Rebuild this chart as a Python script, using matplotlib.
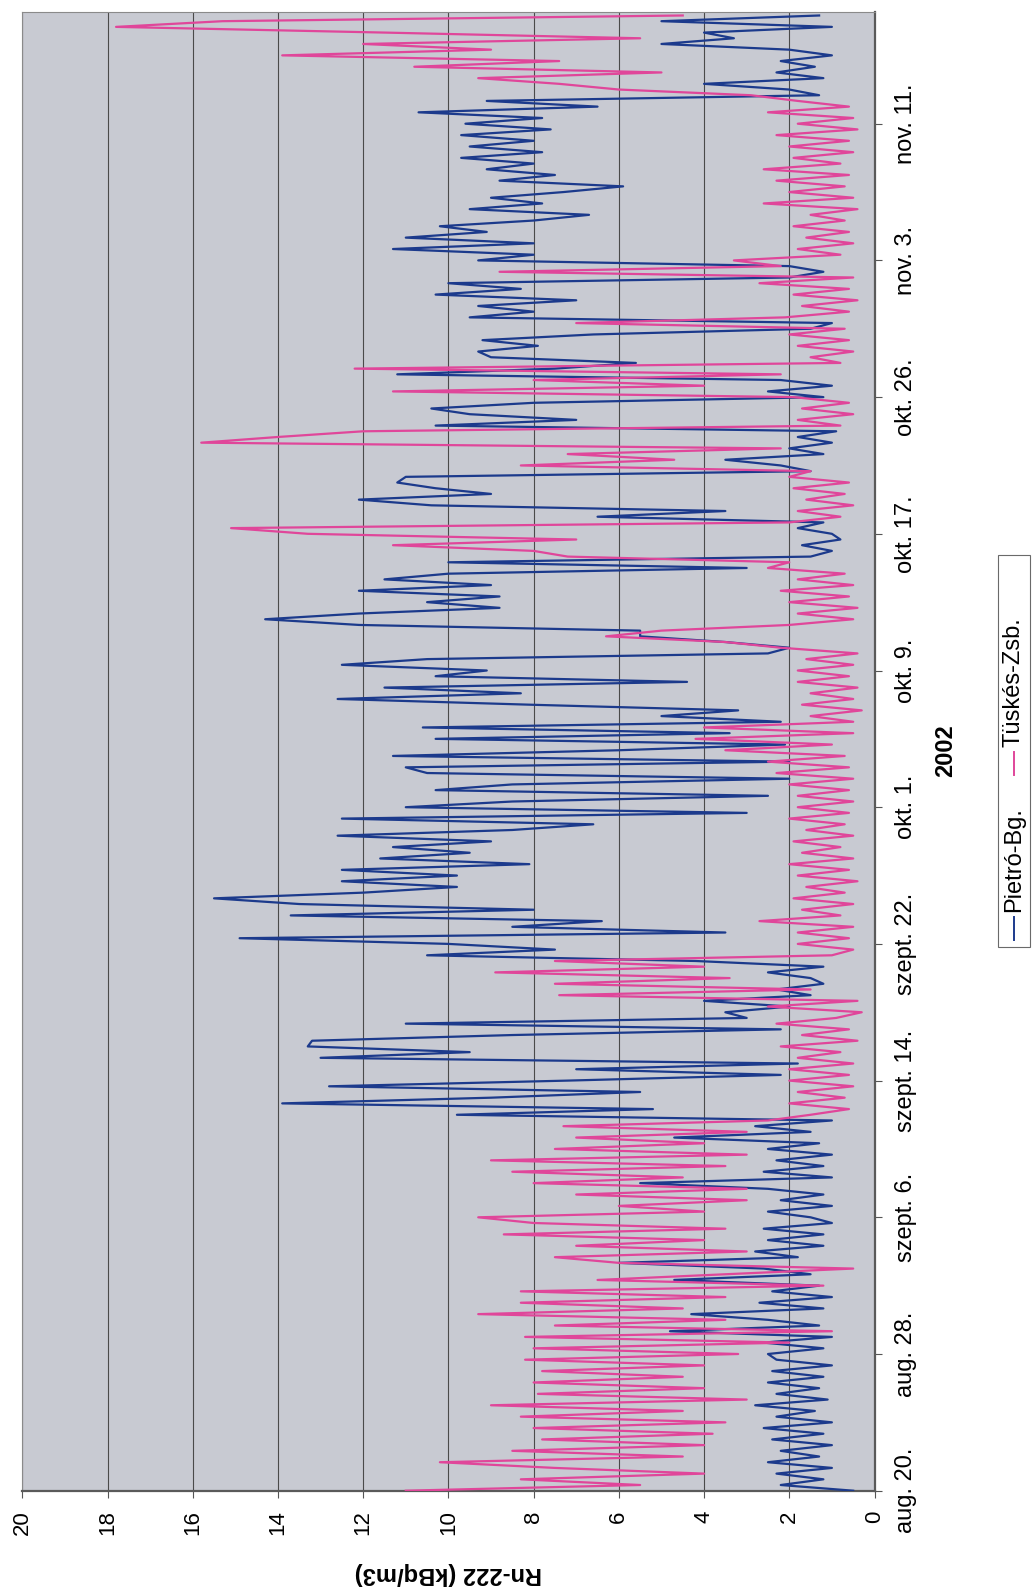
import numpy as np
import matplotlib.pyplot as plt
from matplotlib.lines import Line2D
from matplotlib.patches import Rectangle


OUTPUT_FILE = "out.png"

# samples between two neighbouring date ticks
PER_TICK = 24

DATE_LABELS = [
    "aug. 20.", "aug. 28.", "szept. 6.", "szept. 14.", "szept. 22.",
    "okt. 1.", "okt. 9.", "okt. 17.", "okt. 26.", "nov. 3.", "nov. 11.",
]
VALUE_TICKS = [0, 2, 4, 6, 8, 10, 12, 14, 16, 18, 20]

# Rn-222 (kBq/m3), one row per date interval
PIETRO = [
    0.5, 2.2, 1.2, 2.3, 1.0, 2.5, 1.3, 2.2, 1.0, 2.4, 1.2, 2.6, 1.0, 2.3, 1.4, 2.8, 1.1, 2.3, 1.3, 2.5, 1.2, 2.4, 1.0, 2.3,
    2.5, 1.2, 2.6, 1.0, 4.8, 1.3, 2.5, 4.3, 1.2, 2.7, 1.0, 2.4, 1.3, 4.7, 1.5, 2.6, 6.0, 1.8, 2.8, 1.2, 2.5, 1.2, 2.6, 1.0,
    1.5, 2.5, 1.0, 2.2, 1.2, 2.5, 5.5, 1.0, 2.6, 1.2, 2.3, 1.0, 2.5, 1.3, 4.7, 1.5, 2.8, 1.0, 9.8, 5.2, 13.9, 9.0, 5.5, 12.8,
    7.2, 2.2, 7.0, 1.8, 13.0, 9.5, 13.3, 13.2, 8.5, 2.2, 11.0, 3.0, 3.5, 2.0, 4.0, 1.5, 2.3, 1.2, 1.5, 2.5, 1.2, 4.2, 10.5, 7.5,
    10.0, 14.9, 3.5, 8.5, 6.4, 13.7, 8.0, 13.5, 15.5, 12.0, 9.8, 12.5, 9.8, 12.5, 8.1, 11.6, 9.5, 11.3, 9.0, 12.6, 8.5, 6.6, 12.5, 3.0,
    11.0, 8.5, 2.5, 10.3, 8.5, 2.0, 10.5, 11.0, 2.0, 11.3, 6.0, 2.1, 10.3, 3.4, 10.6, 2.2, 5.0, 3.2, 8.1, 12.6, 8.3, 11.5, 4.4, 10.3,
    9.1, 12.5, 10.5, 2.5, 2.0, 3.5, 5.5, 5.5, 12.1, 14.3, 12.1, 8.8, 10.5, 8.8, 12.1, 9.0, 11.5, 10.0, 3.0, 10.0, 1.5, 1.0, 1.7, 0.8,
    1.0, 1.8, 1.2, 6.5, 3.5, 10.4, 12.1, 9.0, 10.3, 11.2, 11.0, 1.5, 2.2, 3.5, 1.2, 2.0, 1.0, 1.8, 0.9, 10.3, 7.0, 9.5, 10.4, 8.0,
    1.2, 2.5, 1.0, 2.2, 11.2, 7.5, 5.6, 9.0, 9.3, 7.9, 9.2, 6.6, 1.5, 1.0, 9.5, 8.0, 9.3, 7.0, 10.3, 8.3, 10.0, 2.0, 1.2, 2.0,
    9.3, 8.0, 11.3, 8.0, 11.0, 9.1, 10.2, 8.0, 6.7, 9.5, 7.8, 9.0, 7.3, 5.9, 8.8, 7.5, 9.1, 8.0, 9.7, 7.8, 9.5, 8.0, 9.7, 7.6,
    9.6, 7.8, 10.7, 6.5, 9.1, 1.3, 2.0, 4.0, 1.2, 2.3, 1.4, 2.2, 1.0, 2.0, 5.0, 3.3, 4.0, 1.0, 5.0, 1.3,
]

TUSKES = [
    11.0, 5.5, 8.3, 4.0, 7.5, 10.2, 4.5, 8.5, 4.0, 7.8, 3.8, 8.0, 3.5, 8.3, 4.5, 9.0, 3.0, 7.9, 4.0, 8.0, 4.5, 7.8, 4.0, 8.2,
    3.2, 8.0, 2.0, 8.2, 1.0, 7.5, 3.5, 9.3, 4.5, 8.3, 3.5, 8.3, 1.2, 6.5, 3.5, 0.5, 6.0, 7.5, 3.0, 7.0, 4.0, 8.7, 3.5, 8.0,
    9.3, 4.0, 6.0, 3.0, 7.0, 3.0, 8.0, 4.5, 8.5, 3.5, 9.0, 3.0, 7.5, 4.0, 7.0, 3.0, 7.3, 2.5, 1.5, 0.6, 2.0, 0.7, 1.8, 0.5,
    2.0, 0.6, 2.0, 0.5, 1.8, 0.8, 2.2, 0.4, 1.7, 0.6, 2.3, 0.9, 0.3, 2.5, 0.4, 7.4, 1.5, 7.5, 3.4, 8.9, 4.0, 7.5, 1.0, 0.5,
    1.8, 0.6, 1.8, 0.5, 2.7, 0.8, 1.7, 0.5, 1.9, 0.7, 1.6, 0.4, 1.8, 0.6, 2.0, 0.5, 1.7, 0.8, 1.9, 0.5, 1.6, 0.7, 2.0, 0.6,
    1.8, 0.5, 1.8, 0.6, 2.0, 0.5, 2.3, 0.6, 2.5, 0.7, 3.5, 1.0, 4.2, 0.5, 4.0, 0.5, 1.5, 0.3, 1.7, 0.5, 1.5, 0.4, 1.8, 0.6,
    1.8, 0.5, 1.6, 0.4, 2.2, 3.5, 6.3, 5.0, 2.0, 0.5, 1.8, 0.4, 2.0, 0.6, 2.2, 0.5, 1.8, 0.7, 2.5, 2.0, 7.2, 8.0, 11.3, 7.0,
    13.3, 15.1, 2.0, 0.8, 1.8, 0.5, 1.6, 0.7, 1.9, 0.6, 2.0, 1.5, 8.3, 4.7, 7.2, 2.2, 15.8, 14.0, 12.0, 0.8, 1.8, 0.5, 1.7, 0.6,
    1.9, 11.3, 4.0, 8.0, 2.2, 12.2, 0.8, 1.5, 0.5, 1.8, 0.6, 2.0, 0.7, 7.0, 2.1, 0.6, 1.7, 0.4, 1.9, 0.6, 2.7, 0.5, 8.8, 2.2,
    3.3, 0.8, 1.8, 0.5, 1.6, 0.6, 1.9, 0.7, 1.5, 0.4, 2.6, 0.5, 2.0, 0.7, 2.3, 0.6, 2.6, 0.8, 1.9, 0.5, 2.0, 0.6, 2.3, 0.4,
    1.8, 0.5, 2.5, 0.6, 1.8, 2.9, 6.0, 7.4, 9.3, 5.0, 10.8, 7.4, 13.9, 9.0, 12.0, 5.5, 11.5, 17.8, 15.3, 4.5,
]

SERIES_NAMES = ["Pietró-Bg.", "Tüskés-Zsb."]
BLUE = "#1c3a8c"
PINK = "#e0469a"

W, H = 1032, 1588


def px(x, y):
    # figure fraction from pixel position measured from the top-left corner
    return x / W, 1 - y / H


def main():
    plt.rcParams["font.family"] = ["Liberation Sans", "DejaVu Sans"]

    fig = plt.figure(figsize=(W / 100, H / 100), dpi=100)
    fig.patch.set_facecolor("white")

    # plot area (the whole chart is turned on its side)
    left, top, right, bottom = 22.3, 12.3, 874.5, 1490.7
    ax = fig.add_axes([left / W, 1 - bottom / H, (right - left) / W, (bottom - top) / H])
    ax.set_facecolor("#c8cad2")

    # -------------------------
    # data lines
    # -------------------------
    t_p = np.arange(len(PIETRO))
    t_t = np.arange(len(TUSKES))
    ax.plot(PIETRO, t_p, color=BLUE, lw=1.6, zorder=3)
    ax.plot(TUSKES, t_t, color=PINK, lw=1.6, zorder=4)

    # -------------------------
    # axes
    # -------------------------
    ax.set_xlim(20, 0)
    ax.set_ylim(0, 10.815 * PER_TICK)

    ax.set_xticks(VALUE_TICKS)
    ax.set_xticklabels([str(v) for v in VALUE_TICKS], rotation=90, fontsize=16)
    ax.tick_params(axis="x", direction="out", length=5, width=0.8, pad=9, color="#555555")
    ax.xaxis.grid(True, color="#4a4a4a", lw=0.8, zorder=1)
    ax.set_axisbelow(True)

    ax.yaxis.tick_right()
    ax.set_yticks(np.arange(len(DATE_LABELS)) * PER_TICK)
    ax.set_yticklabels(DATE_LABELS, rotation=90, va="center", ha="left", fontsize=17)
    ax.tick_params(axis="y", direction="out", length=5, width=0.8, pad=10, color="#555555")

    for side in ["top", "left"]:
        ax.spines[side].set_color("#8a8a8a")
        ax.spines[side].set_linewidth(0.8)
    for side in ["bottom", "right"]:
        ax.spines[side].set_color("#5a5a5a")
        ax.spines[side].set_linewidth(1.6)

    # axis titles
    fig.text(*px(448, 1574), "Rn-222 (kBq/m3)", rotation=180, ha="center", va="center",
             fontsize=17, fontweight="bold")
    fig.text(*px(946, 751), "2002", rotation=90, ha="center", va="center",
             fontsize=17, fontweight="bold")

    # -------------------------
    # legend (drawn by hand so the text can stand on its side)
    # -------------------------
    x0, y0 = px(998, 947)
    fig.add_artist(Rectangle((x0, y0), 32 / W, 392 / H, transform=fig.transFigure,
                             facecolor="white", edgecolor="#6a6a6a", lw=0.8))
    lx = 1014
    for name, color, line_y, text_y in [
        (SERIES_NAMES[0], BLUE, (917, 940), 912),
        (SERIES_NAMES[1], PINK, (752, 775), 747),
    ]:
        fig.add_artist(Line2D([lx / W, lx / W], [1 - line_y[0] / H, 1 - line_y[1] / H],
                              transform=fig.transFigure, color=color, lw=1.4))
        fig.text(*px(lx, text_y), name, rotation=90, ha="center", va="bottom", fontsize=17)

    fig.savefig(OUTPUT_FILE, dpi=100)
    plt.close(fig)


if __name__ == "__main__":
    main()
